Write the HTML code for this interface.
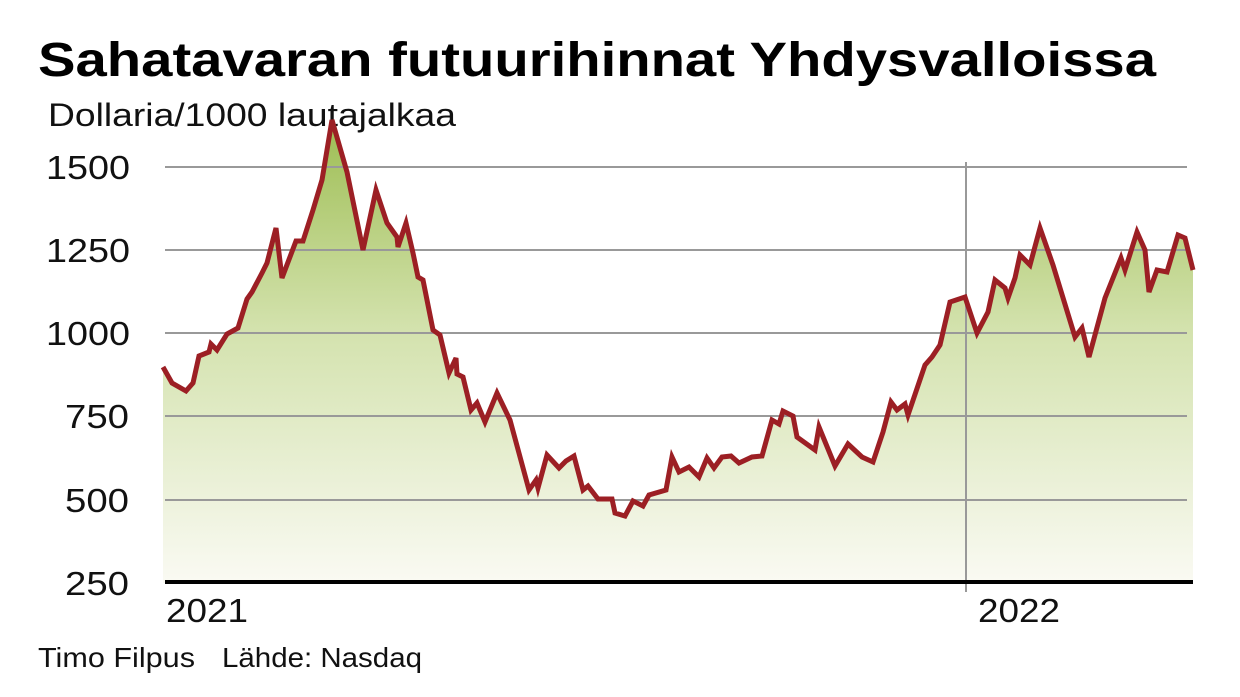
<!DOCTYPE html>
<html><head><meta charset="utf-8"><style>html,body{margin:0;padding:0;background:#fff}svg{display:block}</style></head><body>
<svg width="1240" height="697" viewBox="0 0 1240 697" xmlns="http://www.w3.org/2000/svg" font-family="Liberation Sans, sans-serif">
<defs><linearGradient id="g" gradientUnits="userSpaceOnUse" x1="0" y1="120" x2="0" y2="583">
<stop offset="0" stop-color="#9dbd52"/><stop offset="0.45" stop-color="#d3e2ad"/><stop offset="1" stop-color="#fafaf3"/></linearGradient></defs>
<text x="38" y="76" font-size="48" font-weight="bold" textLength="1118" lengthAdjust="spacingAndGlyphs" fill="#000">Sahatavaran futuurihinnat Yhdysvalloissa</text>
<text x="48" y="126" font-size="32" textLength="408" lengthAdjust="spacingAndGlyphs" fill="#111">Dollaria/1000 lautajalkaa</text>
<polygon fill="url(#g)" points="163,367 172,383 186,391 193,383 199,356 209,352 211,344 217,350 227,334 238,328 247,299 252,292 262,273 267,263 276,228 282,278 296,241 303,241 313,210 322,180 332,120 347,172 363,250 376,190 387,223 397,237 398,247 406,223 413,253 418,277 423,280 433,330 440,335 449,373 456,358 457,374 463,377 471,410 477,403 485,422 497,393 510,420 529,490 536,480 538,488 547,455 559,468 566,461 574,456 583,490 588,486 598,499 612,499 615,513 625,516 633,501 643,506 649,495 666,490 672,457 679,472 689,467 699,477 707,458 714,468 722,457 731,456 739,463 752,457 762,456 772,420 779,424 783,411 793,416 797,437 815,450 819,427 835,466 848,444 862,457 873,462 883,432 891,402 897,410 905,404 908,415 925,365 932,357 940,345 950,302 965,297 977,333 988,312 995,280 1005,288 1008,298 1015,278 1020,255 1030,265 1040,228 1053,265 1075,337 1082,328 1089,357 1105,298 1121,258 1125,270 1137,232 1145,250 1149,292 1157,270 1167,272 1178,235 1185,238 1193,270 1193,583 163,583"/>
<g stroke="#999" stroke-width="2">
<line x1="165" y1="167" x2="1187" y2="167"/><line x1="165" y1="250" x2="1187" y2="250"/><line x1="165" y1="333" x2="1187" y2="333"/><line x1="165" y1="416" x2="1187" y2="416"/><line x1="165" y1="500" x2="1187" y2="500"/>
<line x1="966" y1="162" x2="966" y2="592"/></g>
<line x1="165" y1="582" x2="1193" y2="582" stroke="#000" stroke-width="4"/>
<polyline fill="none" stroke="#9c1f24" stroke-width="5" stroke-linejoin="miter" points="163,367 172,383 186,391 193,383 199,356 209,352 211,344 217,350 227,334 238,328 247,299 252,292 262,273 267,263 276,228 282,278 296,241 303,241 313,210 322,180 332,120 347,172 363,250 376,190 387,223 397,237 398,247 406,223 413,253 418,277 423,280 433,330 440,335 449,373 456,358 457,374 463,377 471,410 477,403 485,422 497,393 510,420 529,490 536,480 538,488 547,455 559,468 566,461 574,456 583,490 588,486 598,499 612,499 615,513 625,516 633,501 643,506 649,495 666,490 672,457 679,472 689,467 699,477 707,458 714,468 722,457 731,456 739,463 752,457 762,456 772,420 779,424 783,411 793,416 797,437 815,450 819,427 835,466 848,444 862,457 873,462 883,432 891,402 897,410 905,404 908,415 925,365 932,357 940,345 950,302 965,297 977,333 988,312 995,280 1005,288 1008,298 1015,278 1020,255 1030,265 1040,228 1053,265 1075,337 1082,328 1089,357 1105,298 1121,258 1125,270 1137,232 1145,250 1149,292 1157,270 1167,272 1178,235 1185,238 1193,270"/>
<g font-size="33" fill="#111">
<text x="46" y="179" textLength="84" lengthAdjust="spacingAndGlyphs">1500</text>
<text x="46" y="262" textLength="84" lengthAdjust="spacingAndGlyphs">1250</text>
<text x="46" y="345" textLength="84" lengthAdjust="spacingAndGlyphs">1000</text>
<text x="65" y="428" textLength="64" lengthAdjust="spacingAndGlyphs">750</text>
<text x="65" y="512" textLength="64" lengthAdjust="spacingAndGlyphs">500</text>
<text x="65" y="595" textLength="64" lengthAdjust="spacingAndGlyphs">250</text>
<text x="166" y="622" textLength="82" lengthAdjust="spacingAndGlyphs">2021</text>
<text x="978" y="622" textLength="82" lengthAdjust="spacingAndGlyphs">2022</text>
</g>
<text x="38" y="667" font-size="28" fill="#111" textLength="157" lengthAdjust="spacingAndGlyphs">Timo Filpus</text>
<text x="222" y="667" font-size="28" fill="#111" textLength="200" lengthAdjust="spacingAndGlyphs">Lähde: Nasdaq</text>
</svg>
</body></html>
